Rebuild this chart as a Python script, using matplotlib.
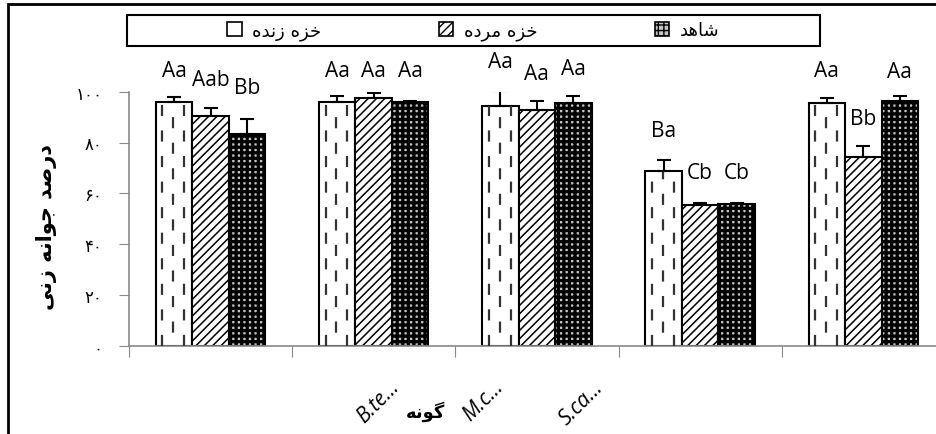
import numpy as np
import matplotlib
matplotlib.use("Agg")
import matplotlib.pyplot as plt
import matplotlib.patches as mpatches
import matplotlib.transforms as mtransforms

# --- data -------------------------------------------------------------
groups = ["", "B.te...", "M.c...", "S.ca...", ""]
series_names = ["خزه زنده", "خزه مرده", "شاهد"]

live = [96.0, 96.0, 94.5, 68.7, 95.4]
dead = [90.3, 97.5, 92.9, 55.5, 74.3]
control = [83.2, 96.0, 95.4, 55.8, 96.2]

live_err = [1.8, 2.4, 5.7, 4.5, 2.1]
dead_err = [3.2, 1.9, 3.4, 0.5, 4.3]
control_err = [6.0, 0.3, 2.8, 0.5, 2.1]

live_lbl = ["Aa", "Aa", "Aa", "Ba", "Aa"]
dead_lbl = ["Aab", "Aa", "Aa", "Cb", "Bb"]
control_lbl = ["Bb", "Aa", "Aa", "Cb", "Aa"]

# heights where the letter labels sit (data units)
live_lbl_y = [108.3, 108.3, 111.7, 84.6, 108.3]
dead_lbl_y = [105.0, 108.3, 107.0, 68.3, 89.5]
control_lbl_y = [101.7, 108.3, 109.0, 68.3, 107.9]

# where the (squeezed) category labels end, in category units
cat_label_x = [None, 1.09, 1.73, 2.34, None]

yticks = [0, 20, 40, 60, 80, 100]
ytick_labels = ["۰", "۲۰", "۴۰", "۶۰", "۸۰", "۱۰۰"]
ylabel = "درصد جوانه زنی"
xlabel = "گونه"

# --- minimal Persian shaping (matplotlib has no RTL/shaping) ------------
FORMS = {
    'ا': ('\uFE8D', '\uFE8E', None, None),
    'ج': ('\uFE9D', '\uFE9E', '\uFE9F', '\uFEA0'),
    'خ': ('\uFEA5', '\uFEA6', '\uFEA7', '\uFEA8'),
    'د': ('\uFEA9', '\uFEAA', None, None),
    'ر': ('\uFEAD', '\uFEAE', None, None),
    'ز': ('\uFEAF', '\uFEB0', None, None),
    'ش': ('\uFEB5', '\uFEB6', '\uFEB7', '\uFEB8'),
    'ص': ('\uFEB9', '\uFEBA', '\uFEBB', '\uFEBC'),
    'م': ('\uFEE1', '\uFEE2', '\uFEE3', '\uFEE4'),
    'ن': ('\uFEE5', '\uFEE6', '\uFEE7', '\uFEE8'),
    'ه': ('\uFEE9', '\uFEEA', '\uFEEB', '\uFEEC'),
    'و': ('\uFEED', '\uFEEE', None, None),
    'ی': ('\uFBFC', '\uFBFD', '\uFBFE', '\uFBFF'),
    'گ': ('\uFB92', '\uFB93', '\uFB94', '\uFB95'),
}


def shape(text):
    out = []
    for i, ch in enumerate(text):
        if ch not in FORMS:
            out.append(ch)
            continue
        prev = text[i - 1] if i > 0 else ''
        nxt = text[i + 1] if i < len(text) - 1 else ''
        jp = prev in FORMS and FORMS[prev][2] is not None
        jn = nxt in FORMS and FORMS[ch][2] is not None
        iso, fin, ini, med = FORMS[ch]
        if jp and jn:
            out.append(med)
        elif jp:
            out.append(fin)
        elif jn:
            out.append(ini)
        else:
            out.append(iso)
    return ''.join(reversed(out))


# --- figure -----------------------------------------------------------
W, H = 936, 435
fig = plt.figure(figsize=(W / 100, H / 100), dpi=100)
ax = fig.add_axes([128.9 / W, 1 - 346.7 / H, 816 / W, 254 / H])

x = np.arange(len(groups))
bw = 0.2237
gray = '#898989'
dark_face = '#c4c4c4'

b1 = ax.bar(x - bw, live, bw, facecolor='white', edgecolor='black', linewidth=1.5, zorder=2)
with plt.rc_context({'hatch.linewidth': 1.1}):
    b2 = ax.bar(x, dead, bw, facecolor='white', edgecolor='black', hatch='////', linewidth=1.5, zorder=2)
with plt.rc_context({'hatch.linewidth': 2.3}):
    b3 = ax.bar(x + bw, control, bw, facecolor=dark_face, edgecolor='black', hatch='+++', linewidth=1.5, zorder=2)

# dashed vertical pattern inside the white bars
for rect in b1:
    x0, w, h = rect.get_x(), rect.get_width(), rect.get_height()
    for k, f in enumerate([0.18, 0.48, 0.78]):
        ax.vlines(x0 + f * w, 0, h, colors='#333333', linewidth=1.6,
                  linestyles=[((k % 2) * 5.5, (5.0, 6.5))], zorder=3)

for xs, vals, errs in [(x - bw, live, live_err), (x, dead, dead_err), (x + bw, control, control_err)]:
    ax.errorbar(xs, vals, yerr=[np.zeros(len(errs)), errs], fmt='none', ecolor='black',
                elinewidth=1.5, capsize=5, capthick=1.5, zorder=4)

for xs, lbls, ys in [(x - bw, live_lbl, live_lbl_y), (x, dead_lbl, dead_lbl_y), (x + bw, control_lbl, control_lbl_y)]:
    for xi, t, yi in zip(xs, lbls, ys):
        ax.text(xi, yi, t, ha='center', va='center', fontsize=15, family='Open Sans', clip_on=False)

ax.set_xlim(-0.5, len(groups) - 0.5)
ax.set_ylim(0, 100)
for s in ['top', 'right']:
    ax.spines[s].set_visible(False)
for s in ['left', 'bottom']:
    ax.spines[s].set_color(gray)
    ax.spines[s].set_linewidth(1.2)

ax.set_yticks(yticks)
ax.set_yticklabels(ytick_labels, family='DejaVu Sans', fontsize=12)
ax.tick_params(axis='y', direction='out', length=7, color=gray, pad=12)
ax.set_xticks(np.arange(len(groups) + 1) - 0.5)
ax.set_xticklabels([])
ax.tick_params(axis='x', direction='out', length=8, color=gray)

# rotated category labels
trans = mtransforms.blended_transform_factory(ax.transData, ax.transAxes)
for xi, g in zip(cat_label_x, groups):
    if g:
        ax.text(xi, -0.12, g, rotation=45, ha='right', va='top', rotation_mode='anchor',
                fontsize=15, style='italic', family='Open Sans', transform=trans, clip_on=False)

fig.text(47 / W, 1 - 227 / H, shape(ylabel), rotation=90, ha='center', va='center',
         fontsize=15, fontweight='bold', family='DejaVu Sans')
fig.text(426 / W, 1 - 412 / H, shape(xlabel), ha='center', va='center',
         fontsize=13, fontweight='bold', family='DejaVu Sans')

# legend
handles = [
    mpatches.Patch(facecolor='white', edgecolor='black', linewidth=1.2),
    mpatches.Patch(facecolor='white', edgecolor='black', hatch='////', linewidth=1.2),
    mpatches.Patch(facecolor=dark_face, edgecolor='black', hatch='+++', linewidth=1.2),
]
leg = fig.legend(handles, [shape(s) for s in series_names], ncol=3, loc='center',
                 bbox_to_anchor=(473.5 / W, 1 - 31.5 / H), frameon=False,
                 handlelength=0.8, handleheight=0.8, handletextpad=0.6, columnspacing=6.5,
                 prop={'family': 'DejaVu Sans', 'size': 13})
fig.patches.append(mpatches.Rectangle((127 / W, 1 - 47 / H), 693 / W, 31 / H, fill=False,
                                      edgecolor='black', linewidth=1.5, transform=fig.transFigure))

# outer chart border
fig.patches.append(mpatches.Rectangle((8 / W, -0.05), 1.0, 1 - 5 / H + 0.05, fill=False,
                                      edgecolor='black', linewidth=2, transform=fig.transFigure))

fig.savefig('out.png', dpi=100)
